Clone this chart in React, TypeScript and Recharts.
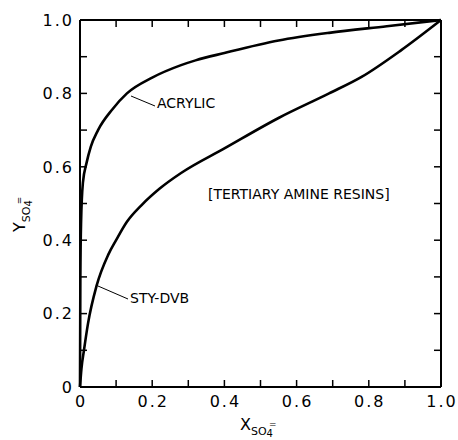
import { LineChart, Line, XAxis, YAxis } from "recharts"

// acrylic resin isotherm
const acrylicX = [0, 0.001, 0.003, 0.008, 0.018, 0.03, 0.05, 0.09, 0.13, 0.2, 0.28, 0.32, 0.4, 0.55, 0.69, 0.85, 1.0]
const acrylicY = [0, 0.3, 0.45, 0.556, 0.61, 0.655, 0.7, 0.757, 0.8, 0.843, 0.877, 0.89, 0.91, 0.944, 0.965, 0.983, 1.0]

// styrene-DVB resin isotherm
const styX = [0, 0.004, 0.011, 0.022, 0.046, 0.078, 0.1, 0.13, 0.17, 0.22, 0.28, 0.4, 0.55, 0.69, 0.78, 0.89, 1.0]
const styY = [0, 0.05, 0.1, 0.172, 0.276, 0.36, 0.4, 0.45, 0.495, 0.54, 0.583, 0.65, 0.733, 0.8, 0.845, 0.918, 1.0]

const ticks = [0, 0.1, 0.2, 0.3, 0.4, 0.5, 0.6, 0.7, 0.8, 0.9, 1.0]

const acrylic = acrylicX.map((x, i) => ({ x, y: acrylicY[i] }))
const sty = styX.map((x, i) => ({ x, y: styY[i] }))

const font = "DejaVu Sans"
const TICK = 7

const fmt = (v: number) => {
  if (Math.round(v * 10) % 2 !== 0) return ""
  return v === 0 ? "0" : v.toFixed(1)
}

const labelStyle = { fill: "#000", fontSize: 16, fontFamily: font, letterSpacing: 2 }
const axisLine = { stroke: "#000", strokeWidth: 2 }

// tick marks point into the plot, labels sit outside
const BottomTick = (props: any) => {
  const { x, y, payload } = props
  const t = fmt(payload.value)
  return (
    <g>
      <line x1={x} y1={y} x2={x} y2={y - TICK} stroke="#000" strokeWidth={1.5} />
      {t && <text x={x + 1} y={y + 8} dy="0.75em" textAnchor="middle" {...labelStyle}>{t}</text>}
    </g>
  )
}
const LeftTick = (props: any) => {
  const { x, y, payload } = props
  const t = fmt(payload.value)
  return (
    <g>
      <line x1={x} y1={y} x2={x + TICK} y2={y} stroke="#000" strokeWidth={1.5} />
      {t && <text x={x - 6} y={y} dy="0.36em" textAnchor="end" {...labelStyle}>{t}</text>}
    </g>
  )
}
const TopTick = (props: any) => {
  const { x, y } = props
  return <line x1={x} y1={y} x2={x} y2={y + TICK} stroke="#000" strokeWidth={1.5} />
}
const RightTick = (props: any) => {
  const { x, y } = props
  return <line x1={x} y1={y} x2={x - TICK} y2={y} stroke="#000" strokeWidth={1.5} />
}

export default function App() {
  return (
    <div style={{ position: "absolute", left: 0, top: 0, background: "#fff" }}>
      <LineChart width={458} height={440} margin={{ top: 19, right: 16, bottom: 23, left: 0 }}>
        <XAxis
          type="number"
          dataKey="x"
          domain={[0, 1]}
          ticks={ticks}
          tickSize={0}
          tickMargin={0}
          height={30}
          axisLine={axisLine}
          tickLine={false}
          tick={BottomTick}
          interval={0}
        />
        <XAxis
          xAxisId="top"
          orientation="top"
          type="number"
          dataKey="x"
          domain={[0, 1]}
          ticks={ticks}
          tickSize={0}
          tickMargin={0}
          height={1}
          axisLine={axisLine}
          tickLine={false}
          tick={TopTick}
          interval={0}
        />
        <YAxis
          type="number"
          dataKey="y"
          domain={[0, 1]}
          ticks={ticks}
          tickSize={0}
          tickMargin={0}
          width={80}
          axisLine={axisLine}
          tickLine={false}
          tick={LeftTick}
          interval={0}
        />
        <YAxis
          yAxisId="right"
          orientation="right"
          type="number"
          dataKey="y"
          domain={[0, 1]}
          ticks={ticks}
          tickSize={0}
          tickMargin={0}
          width={1}
          axisLine={axisLine}
          tickLine={false}
          tick={RightTick}
          interval={0}
        />
        <Line data={acrylic} dataKey="y" type="monotone" stroke="#000" strokeWidth={2.6} dot={false} isAnimationActive={false} />
        <Line data={sty} xAxisId="top" yAxisId="right" dataKey="y" type="monotone" stroke="#000" strokeWidth={2.6} dot={false} isAnimationActive={false} />

        {/* curve labels */}
        <line x1={131} y1={96} x2={155} y2={106} stroke="#000" strokeWidth={1} />
        <text x={157} y={108} fontFamily={font} fontSize={14} fill="#000">ACRYLIC</text>
        <line x1={98} y1={286} x2={128} y2={299} stroke="#000" strokeWidth={1} />
        <text x={130} y={303} fontFamily={font} fontSize={14} fill="#000">STY-DVB</text>
        <text x={208} y={199} fontFamily={font} fontSize={14} fill="#000">[TERTIARY AMINE RESINS]</text>

        {/* axis titles */}
        <text x={240} y={430} fontFamily={font} fontSize={16} fill="#000">
          X<tspan fontSize={11} dy={5}>SO</tspan><tspan fontSize={10} dy={2}>4</tspan><tspan fontSize={9} dx={-4} dy={-10}>=</tspan>
        </text>
        <text x={25} y={232} transform="rotate(-90 25 232)" fontFamily={font} fontSize={16} fill="#000">
          Y<tspan fontSize={11} dy={5}>SO</tspan><tspan fontSize={10} dy={2}>4</tspan><tspan fontSize={9} dx={-4} dy={-10}>=</tspan>
        </text>
      </LineChart>
    </div>
  )
}
